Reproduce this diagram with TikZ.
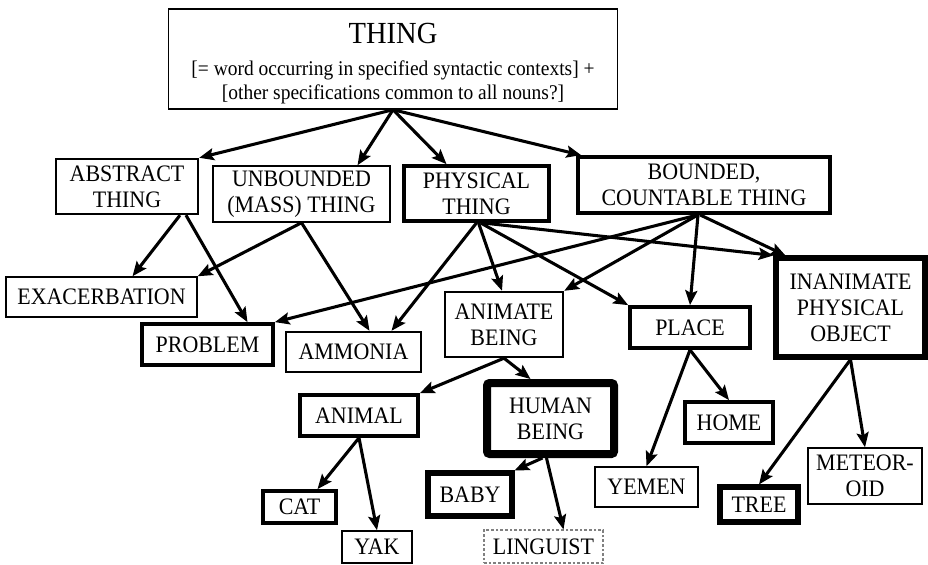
\documentclass[tikz,border=0pt]{standalone}
\usepackage{fontspec}
\setmainfont[FakeStretch=0.93]{Liberation Serif}
\usetikzlibrary{arrows.meta,calc}

\begin{document}
\begin{tikzpicture}[x=0.75pt,y=-0.75pt,
  box/.style={draw, rectangle, align=center, inner sep=0pt,
    font=\fontsize{17.7}{19.5}\selectfont},
  sz/.style 2 args={minimum width=#1*0.75pt, minimum height=#2*0.75pt},
  thinbox/.style={box, line width=1.1pt},
  midbox/.style={box, line width=1.8pt},
  thickbox/.style={box, line width=2.8pt},
  heavybox/.style={box, line width=3.8pt},
  boldbox/.style={box, line width=6pt, rounded corners=2pt},
  faintbox/.style={box, draw=gray, line width=0.8pt, dash pattern=on 2pt off 1.5pt},
  arr/.style={-{Stealth[length=11pt,width=9pt,inset=2pt]}, line width=2.3pt},
]
\useasboundingbox (0,0) rectangle (928,564);

% root of the hierarchy: frame and its text
\node[thinbox, sz={449}{100}] (thing) at (393,59) {};
\node[align=center, inner sep=0pt, font=\fontsize{15.7}{18.5}\selectfont] (thingtext) at (393,64)
  {\fontsize{23}{27}\selectfont THING\\[5pt]
   [= word occurring in specified syntactic contexts] +\\\relax
   [other specifications common to all nouns?]};

% first level
\node[midbox,   sz={142}{55}] (abs)  at (127,186.5) {ABSTRACT\\THING};
\node[thinbox,  sz={177}{56}] (unb)  at (301.5,194) {UNBOUNDED\\(MASS) THING};
\node[thickbox, sz={145}{55}] (phys) at (476.5,193.5) {PHYSICAL\\THING};
\node[thickbox, sz={252}{56}] (bnd)  at (704,185) {BOUNDED,\\COUNTABLE THING};

% second level
\node[thinbox,  sz={191}{40}] (exac)  at (101.5,297) {EXACERBATION};
\node[thickbox, sz={131}{41}] (prob)  at (207.5,344.5) {PROBLEM};
\node[midbox,   sz={135}{40}] (amm)   at (353.5,352) {AMMONIA};
\node[midbox,   sz={118}{65}] (animb) at (504,324.5) {ANIMATE\\BEING};
\node[thickbox, sz={120}{41}] (place) at (690,327.5) {PLACE};
\node[heavybox, sz={149}{99}] (inan)  at (850.5,307.5) {INANIMATE\\PHYSICAL\\OBJECT};

% third level
\node[thickbox, sz={118}{41}] (animal) at (359,415.5) {ANIMAL};
\node[boldbox,  sz={127}{71}] (human)  at (550.5,418.5) {HUMAN\\BEING};
\node[thickbox, sz={88}{41}]  (home)   at (729,422.5) {HOME};
\node[thinbox,  sz={103}{40}] (yemen)  at (646.5,487) {YEMEN};
\node[heavybox, sz={78}{35}]  (tree)   at (759,504.5) {TREE};
\node[thinbox,  sz={114}{56}] (met)    at (865,476) {METEOR-\\OID};
\node[heavybox, sz={84}{43}]  (baby)   at (470,494.5) {BABY};
\node[thickbox, sz={73}{32}]  (cat)    at (299.5,507) {CAT};
\node[thinbox,  sz={70}{32}]  (yak)    at (377,547) {YAK};
\node[faintbox, sz={119}{33}] (ling)   at (543.5,546.5) {LINGUIST};

% THING
\draw[arr] (thing.south) -- (abs.north east);
\draw[arr] (thing.south) -- ($(unb.north)+(56,0)$);
\draw[arr] (thing.south) -- ($(phys.north)+(-30,0)$);
\draw[arr] (thing.south) -- ($(bnd.north west)+(5,0)$);

% ABSTRACT / UNBOUNDED
\draw[arr] ($(abs.south)+(53,0)$) -- ($(exac.north)+(31,0)$);
\draw[arr] ($(abs.south)+(59,0)$) -- ($(prob.north)+(40,0)$);
\draw[arr] (unb.south) -- (exac.north east);
\draw[arr] (unb.south) -- ($(amm.north)+(16,0)$);

% PHYSICAL
\draw[arr] (phys.south) -- ($(amm.north)+(38,0)$);
\draw[arr] ($(phys.south)+(2,0)$) -- ($(animb.north)+(-2,0)$);
\draw[arr] ($(phys.south)+(4,0)$) -- (place.north west);
\draw[arr] ($(phys.south)+(6,0)$) -- (inan.north west);

% BOUNDED
\draw[arr] ($(bnd.south)+(-6,0)$) -- (prob.north east);
\draw[arr] ($(bnd.south)+(-6,0)$) -- (animb.north east);
\draw[arr] ($(bnd.south)+(-6,0)$) -- (place.north);
\draw[arr] ($(bnd.south)+(-4,0)$) -- ($(inan.north west)+(12,0)$);

% ANIMATE BEING
\draw[arr] (animb.south) -- ($(human.north)+(-20,0)$);
\draw[arr] (animb.south) -- (animal.north east);
\draw[arr] ($(human.south)+(-8,0)$) -- (baby.north east);
\draw[arr] ($(human.south)+(-4,0)$) -- ($(ling.north)+(20,0)$);
\draw[arr] (animal.south) -- ($(cat.north)+(18,0)$);
\draw[arr] (animal.south) -- (yak.north);

% PLACE and INANIMATE
\draw[arr] (place.south) -- (yemen.north);
\draw[arr] (place.south) -- (home.north);
\draw[arr] (inan.south) -- (tree.north);
\draw[arr] (inan.south) -- (met.north);
\end{tikzpicture}
\end{document}
